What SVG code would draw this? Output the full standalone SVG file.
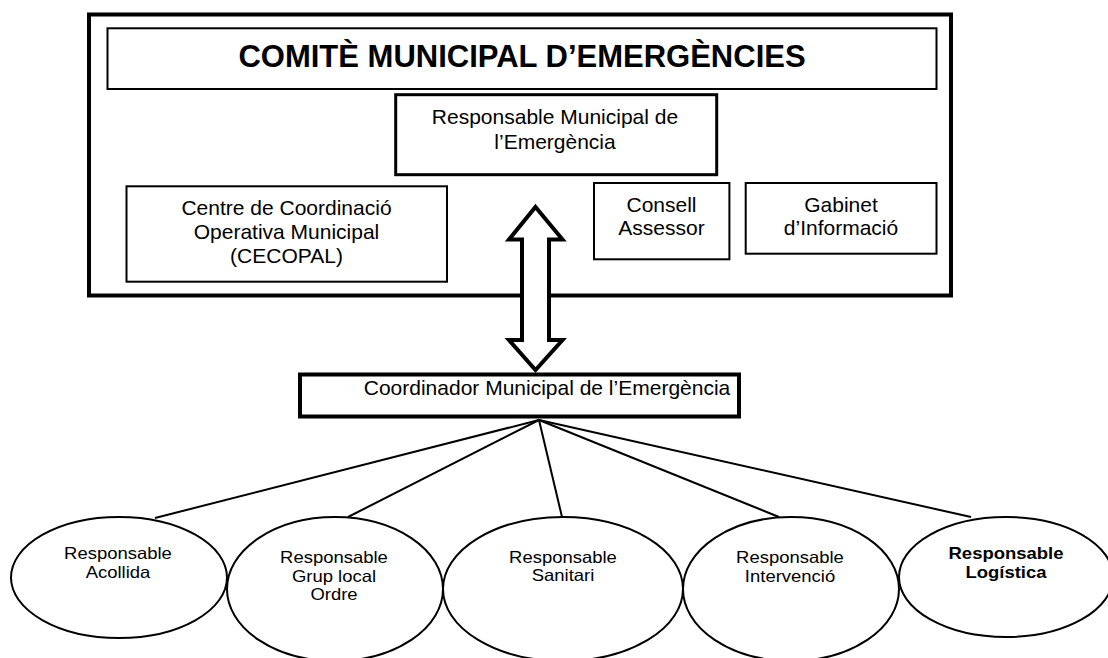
<svg xmlns="http://www.w3.org/2000/svg" width="1108" height="658" viewBox="0 0 1108 658">
<style>
text{font-family:"Liberation Sans",Arial,sans-serif;fill:#000;text-anchor:middle}
.t{font-size:21px}
.title{font-size:31px;font-weight:bold}
.el{font-size:16.5px}
.b{font-weight:bold}
.box{fill:#fff;stroke:#000}
.ell{fill:#fff;stroke:#000;stroke-width:2}
.ln{stroke:#000;stroke-width:2;fill:none}
</style>
<rect width="1108" height="658" fill="#fff"/>
<g id="comite">
<rect class="box" x="89" y="14.5" width="862" height="281" stroke-width="4"/>
</g>
<g id="titol">
<rect class="box" x="107.5" y="28.3" width="829" height="60.7" stroke-width="2"/>
<text class="title" x="522" y="67">COMITÈ MUNICIPAL D’EMERGÈNCIES</text>
</g>
<g id="responsable-municipal">
<rect class="box" x="395.7" y="94.7" width="321" height="80" stroke-width="3"/>
<text class="t"><tspan x="555" y="124">Responsable Municipal de</tspan><tspan x="555" y="149">l’Emergència</tspan></text>
</g>
<g id="cecopal">
<rect class="box" x="126.5" y="186.3" width="320.5" height="95.4" stroke-width="2"/>
<text class="t"><tspan x="286.5" y="215">Centre de Coordinació</tspan><tspan x="286.5" y="239">Operativa Municipal</tspan><tspan x="286.5" y="263">(CECOPAL)</tspan></text>
</g>
<g id="consell">
<rect class="box" x="594" y="183" width="135.4" height="76.3" stroke-width="2"/>
<text class="t"><tspan x="661.5" y="212">Consell</tspan><tspan x="661.5" y="235">Assessor</tspan></text>
</g>
<g id="gabinet">
<rect class="box" x="745.7" y="183" width="190.8" height="70.7" stroke-width="2"/>
<text class="t"><tspan x="841" y="212">Gabinet</tspan><tspan x="841" y="235">d’Informació</tspan></text>
</g>
<g id="connectors">
<polygon points="535.5,207 562.5,239.5 549,239.5 549,340 562.5,340 535.5,370 509,340 522,340 522,239.5 509,239.5" fill="#fff" stroke="#000" stroke-width="4" stroke-linejoin="miter"/>
<line class="ln" x1="539" y1="420" x2="155" y2="518"/>
<line class="ln" x1="539" y1="420" x2="348" y2="517"/>
<line class="ln" x1="539" y1="420" x2="562" y2="517"/>
<line class="ln" x1="539" y1="420" x2="779" y2="517"/>
<line class="ln" x1="539" y1="420" x2="971" y2="517"/>
</g>
<g id="coordinador">
<rect class="box" x="300" y="374.5" width="439" height="42" stroke-width="4"/>
<text class="t" x="547" y="395">Coordinador Municipal de l’Emergència</text>
</g>
<g id="acollida">
<ellipse class="ell" cx="119" cy="577.5" rx="108" ry="60.5"/>
<text class="el" transform="translate(118,0) scale(1.12,1)"><tspan x="0" y="559">Responsable</tspan><tspan x="0" y="578">Acollida</tspan></text>
</g>
<g id="ordre">
<ellipse class="ell" cx="335" cy="589" rx="108" ry="72"/>
<text class="el" transform="translate(334,0) scale(1.12,1)"><tspan x="0" y="563">Responsable</tspan><tspan x="0" y="582">Grup local</tspan><tspan x="0" y="600">Ordre</tspan></text>
</g>
<g id="sanitari">
<ellipse class="ell" cx="563" cy="589" rx="120" ry="72"/>
<text class="el" transform="translate(563,0) scale(1.12,1)"><tspan x="0" y="563">Responsable</tspan><tspan x="0" y="581">Sanitari</tspan></text>
</g>
<g id="intervencio">
<ellipse class="ell" cx="791" cy="589" rx="108" ry="72"/>
<text class="el" transform="translate(790,0) scale(1.12,1)"><tspan x="0" y="563">Responsable</tspan><tspan x="0" y="582">Intervenció</tspan></text>
</g>
<g id="logistica">
<ellipse class="ell" cx="1006" cy="577" rx="107" ry="60"/>
<text class="el b" transform="translate(1006,0) scale(1.12,1)"><tspan x="0" y="559">Responsable</tspan><tspan x="0" y="578">Logística</tspan></text>
</g>
</svg>
